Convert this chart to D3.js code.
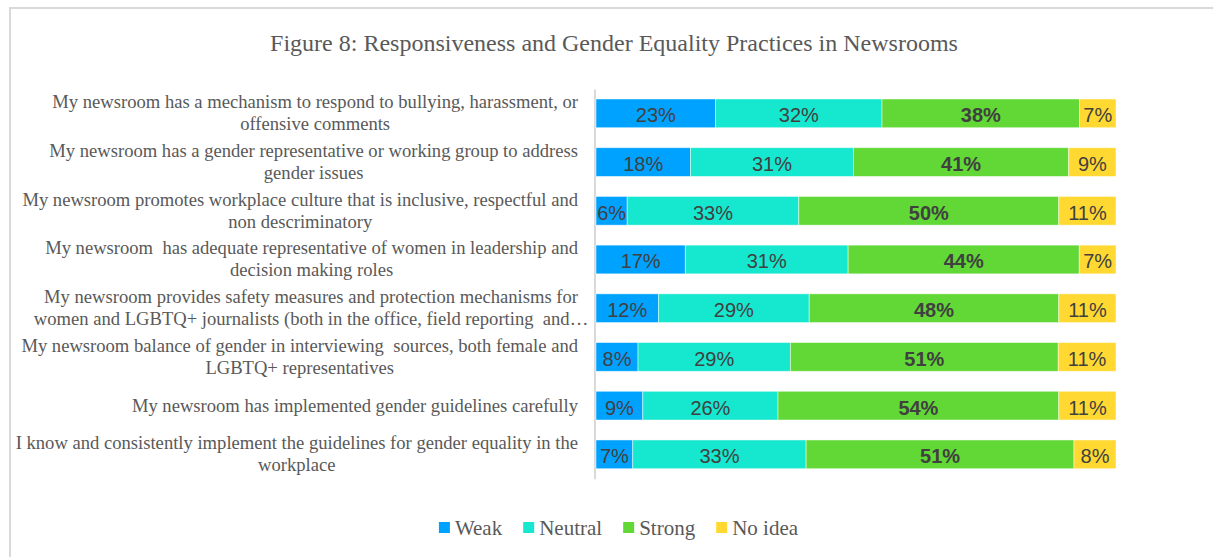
<!DOCTYPE html>
<html>
<head>
<meta charset="utf-8">
<script src="https://cdn.jsdelivr.net/npm/d3@7"></script>
<style>
  body { margin: 0; background: #ffffff; }
  svg { display: block; }
  .cat-label { white-space: pre; }
</style>
</head>
<body>
<svg id="chart" width="1213" height="557"></svg>
<script>
// Survey statements (explicit line breaks follow the original wrapping)
const categories = [
  "My newsroom has a mechanism to respond to bullying, harassment, or\noffensive comments",
  "My newsroom has a gender representative or working group to address\ngender issues",
  "My newsroom promotes workplace culture that is inclusive, respectful and\nnon descriminatory",
  "My newsroom  has adequate representative of women in leadership and\ndecision making roles",
  "My newsroom provides safety measures and protection mechanisms for\nwomen and LGBTQ+ journalists (both in the office, field reporting  and…",
  "My newsroom balance of gender in interviewing  sources, both female and\nLGBTQ+ representatives",
  "My newsroom has implemented gender guidelines carefully",
  "I know and consistently implement the guidelines for gender equality in the\nworkplace"
];

const seriesNames = ["Weak", "Neutral", "Strong", "No idea"];
const weak    = [23, 18, 6, 17, 12, 8, 9, 7];
const neutral = [32, 31, 33, 31, 29, 29, 26, 33];
const strong  = [38, 41, 50, 44, 48, 51, 54, 51];
const noIdea  = [7, 9, 11, 7, 11, 11, 11, 8];
const seriesColors = ["#00a2ff", "#16e7cf", "#61d836", "#ffd932"];

const titleText = "Figure 8: Responsiveness and Gender Equality Practices in Newsrooms";

const svg = d3.select("#chart");
const W = 1213, H = 557;
const serif = "'Liberation Serif', 'Times New Roman', serif";

// chart frame
svg.append("rect")
  .attr("x", 10).attr("y", 8)
  .attr("width", W + 20).attr("height", H + 20)
  .attr("fill", "#ffffff")
  .attr("stroke", "#d9d9d9")
  .attr("stroke-width", 2);

svg.append("text")
  .attr("x", 614).attr("y", 51)
  .attr("text-anchor", "middle")
  .attr("font-family", serif)
  .attr("font-size", 24)
  .attr("fill", "#595959")
  .text(titleText);

// tabular rows for stacking
const rows = categories.map((c, i) => ({
  key: i,
  "Weak": weak[i], "Neutral": neutral[i], "Strong": strong[i], "No idea": noIdea[i]
}));

const stack = d3.stack().keys(seriesNames).offset(d3.stackOffsetExpand);
const layers = stack(rows);

const x = d3.scaleLinear().domain([0, 1]).range([596, 1116]);
const y = d3.scaleBand()
  .domain(d3.range(categories.length))
  .range([89, 478.7])
  .paddingInner(0.41)
  .paddingOuter(0.205);

const color = d3.scaleOrdinal().domain(seriesNames).range(seriesColors);

// category axis line
const axis = svg.append("g")
  .attr("transform", "translate(594.5,0)")
  .call(d3.axisLeft(y).tickSize(0).tickFormat(""));
axis.select(".domain").attr("stroke", "#d9d9d9").attr("stroke-width", 2);

// stacked bars
const layerG = svg.append("g").selectAll("g")
  .data(layers).join("g")
  .attr("fill", d => color(d.key));

layerG.selectAll("rect")
  .data(d => d.map(v => Object.assign(v, { series: d.key })))
  .join("rect")
  .attr("x", d => x(d[0]))
  .attr("y", d => y(d.data.key))
  .attr("width", d => x(d[1]) - x(d[0]))
  .attr("height", y.bandwidth())
  .attr("stroke", "#ffffff")
  .attr("stroke-opacity", 0.6)
  .attr("stroke-width", 0.8);

// value labels
layerG.selectAll("text")
  .data(d => d)
  .join("text")
  .attr("x", d => (x(d[0]) + x(d[1])) / 2)
  .attr("y", d => y(d.data.key) + y.bandwidth() / 2 + 9)
  .attr("text-anchor", "middle")
  .attr("font-family", "'Liberation Sans', Arial, sans-serif")
  .attr("font-size", 20)
  .attr("font-weight", d => d.series === "Strong" ? "bold" : "normal")
  .attr("fill", "#404040")
  .text(d => d.data[d.series] + "%");

// category labels: lines centred on each other, block right-aligned
const labelRight = 578;
const lineGap = 22;
const labelG = svg.append("g")
  .attr("font-family", serif)
  .attr("font-size", 18.6)
  .attr("fill", "#595959");

categories.forEach((c, i) => {
  const lines = c.split("\n");
  const t = labelG.append("text")
    .attr("class", "cat-label")
    .attr("text-anchor", "middle");
  const cy = y(i) + y.bandwidth() / 2;
  const first = (lines.length - 1) / 2;
  const spans = lines.map((ln, j) =>
    t.append("tspan")
      .attr("y", cy + (j - first) * lineGap + 6)
      .text(ln));
  const w = spans[0].node().getComputedTextLength();
  spans.forEach(s => s.attr("x", labelRight - w / 2));
});

// legend
const legendG = svg.append("g")
  .attr("font-family", serif)
  .attr("font-size", 21)
  .attr("fill", "#595959");
const items = seriesNames.map(name => {
  const g = legendG.append("g");
  g.append("rect").attr("width", 11).attr("height", 11)
    .attr("y", 522).attr("fill", color(name));
  const t = g.append("text").attr("x", 16).attr("y", 534.5).text(name);
  return { g, w: 16 + t.node().getComputedTextLength() };
});
const gap = 21;
const total = d3.sum(items, d => d.w) + gap * (items.length - 1);
let cx = 618.5 - total / 2;
items.forEach(it => {
  it.g.attr("transform", `translate(${cx},0)`);
  cx += it.w + gap;
});
</script>
</body>
</html>
